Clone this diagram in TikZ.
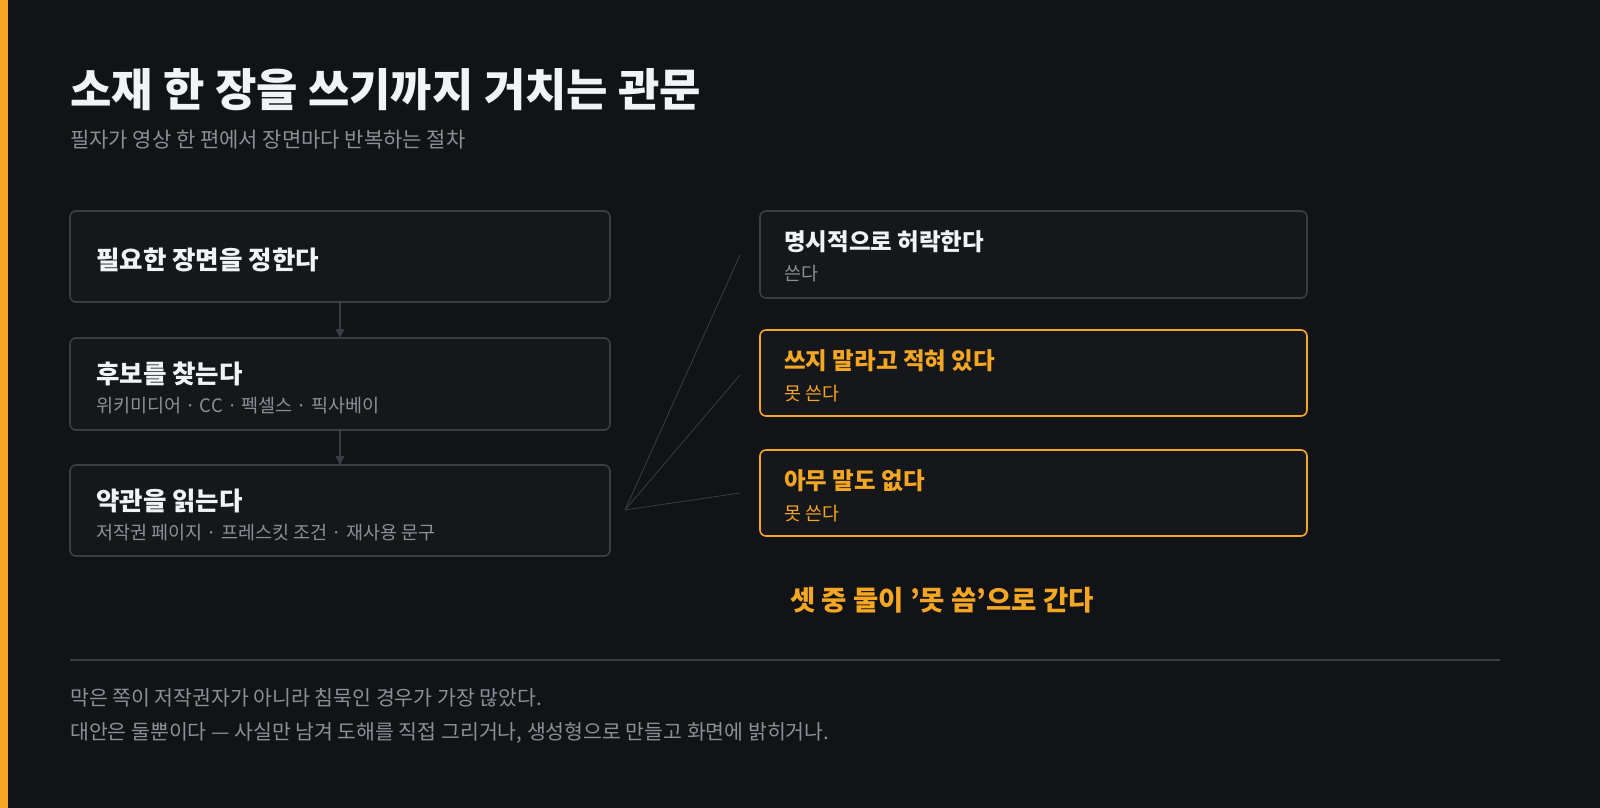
\documentclass[tikz,border=0pt]{standalone}
\usepackage{fontspec}
\setmainfont{Noto Sans CJK KR}
\usetikzlibrary{arrows.meta}
\definecolor{bg}{HTML}{111317}
\definecolor{boxfill}{HTML}{15171B}
\definecolor{boxline}{HTML}{3A3D43}
\definecolor{accent}{HTML}{F5A623}
\definecolor{subgray}{HTML}{8C9096}
\definecolor{titlewhite}{HTML}{F2F3F5}
\tikzset{
  stage/.style={draw=boxline, line width=1.6pt, fill=boxfill, rounded corners=6pt},
  warn/.style={stage, draw=accent},
  head/.style={anchor=west, font=\fontsize{25.5}{30}\selectfont\bfseries, text=titlewhite, inner sep=0},
  note/.style={anchor=west, font=\fontsize{18.5}{22}\selectfont, text=subgray, inner sep=0},
  link/.style={draw=boxline, line width=1.2pt}
}
\begin{document}
\begin{tikzpicture}[x=1pt,y=-1pt]
\useasboundingbox (0,0) rectangle (1600,808);
\fill[bg] (0,0) rectangle (1600,808);
\fill[accent] (0,0) rectangle (8,808);

% Title and subtitle
\node[anchor=west, inner sep=0, font=\fontsize{45}{50}\selectfont\bfseries, text=titlewhite] (title) at (70,90) {소재 한 장을 쓰기까지 거치는 관문};
\node[note, font=\fontsize{21}{25}\selectfont] (subtitle) at (70,140) {필자가 영상 한 편에서 장면마다 반복하는 절차};

% Left column steps
\draw[stage] (70,211) rectangle (610,302);
\node[head] (pick) at (96,260) {필요한 장면을 정한다};
\draw[stage] (70,338) rectangle (610,430);
\node[head] (find) at (96,374) {후보를 찾는다};
\node[note] (findsub) at (96,406) {위키미디어 · CC · 펙셀스 · 픽사베이};
\draw[stage] (70,465) rectangle (610,556);
\node[head] (read) at (96,501) {약관을 읽는다};
\node[note] (readsub) at (96,533) {저작권 페이지 · 프레스킷 조건 · 재사용 문구};

\coordinate (a1) at (340,302); \coordinate (a2) at (340,338);
\coordinate (b1) at (340,430); \coordinate (b2) at (340,465);
\draw[link, -{Triangle[length=9pt,width=9pt]}] (a1) -- (a2);
\draw[link, -{Triangle[length=9pt,width=9pt]}] (b1) -- (b2);

% Right column outcomes
\draw[stage] (760,211) rectangle (1307,298);
\node[head, font=\fontsize{23.5}{28}\selectfont\bfseries] (yes) at (784,242) {명시적으로 허락한다};
\node[note] (yessub) at (784,274) {쓴다};
\draw[warn] (760,330) rectangle (1307,416);
\node[head, font=\fontsize{23.5}{28}\selectfont\bfseries, text=accent] (no) at (784,361) {쓰지 말라고 적혀 있다};
\node[note, text=accent] (nosub) at (784,394) {못 쓴다};
\draw[warn] (760,450) rectangle (1307,536);
\node[head, font=\fontsize{23.5}{28}\selectfont\bfseries, text=accent] (none) at (784,481) {아무 말도 없다};
\node[note, text=accent] (nonesub) at (784,514) {못 쓴다};

% Fan of links
\coordinate (fan) at (625,510);
\coordinate (t1) at (740,255);
\coordinate (t2) at (740,375);
\coordinate (t3) at (740,493);
\foreach \t in {t1,t2,t3}
  \draw[link, line width=0.8pt] (fan) -- (\t);

\node[anchor=west, inner sep=0, font=\fontsize{27.5}{32}\selectfont\bfseries, text=accent] (verdict) at (790,600) {셋 중 둘이 {\char39}못 씀{\char39}으로 간다};

% Footer
\coordinate (s1) at (70,660); \coordinate (s2) at (1500,660);
\draw[link] (s1) -- (s2);
\node[note, font=\fontsize{20.5}{24}\selectfont] (foot1) at (70,698) {막은 쪽이 저작권자가 아니라 침묵인 경우가 가장 많았다.};
\node[note, font=\fontsize{20.5}{24}\selectfont] (foot2) at (70,733) {대안은 둘뿐이다 — 사실만 남겨 도해를 직접 그리거나, 생성형으로 만들고 화면에 밝히거나.};
\end{tikzpicture}
\end{document}
